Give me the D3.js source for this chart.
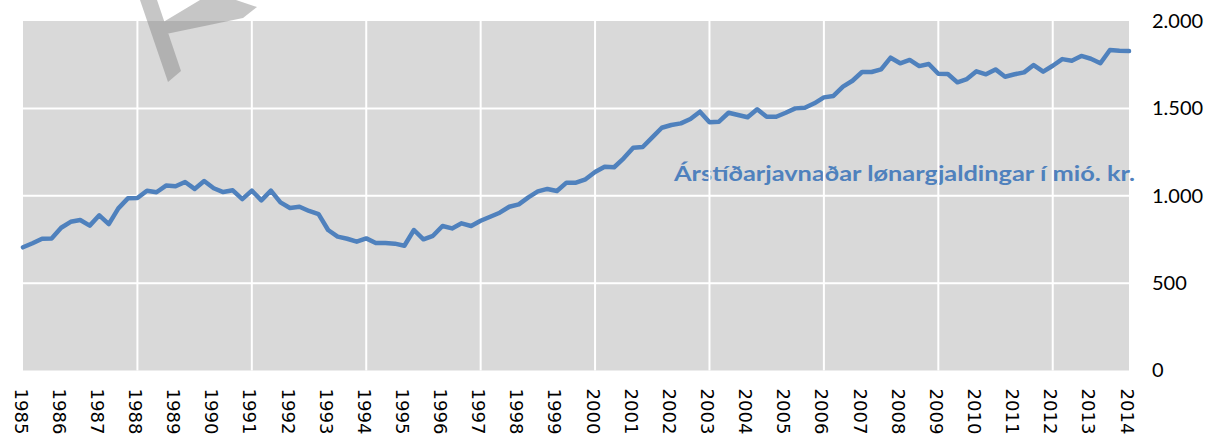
<!DOCTYPE html>
<html>
<head>
<meta charset="utf-8">
<script src="https://cdn.jsdelivr.net/npm/d3@7"></script>
<style>
  html, body { margin: 0; padding: 0; background: #fff; }
  svg { display: block; }
</style>
</head>
<body>
<div id="chart"></div>
<script>
const width = 1215;
const height = 434;

// quarterly wage payments, seasonally adjusted (mió. kr.), 1985K1 - 2014K1
const years = ["1985","1986","1987","1988","1989","1990","1991","1992","1993","1994",
  "1995","1996","1997","1998","1999","2000","2001","2002","2003","2004",
  "2005","2006","2007","2008","2009","2010","2011","2012","2013","2014"];

const values = [
  705, 728, 754, 756, 817, 851, 861, 829, 888, 838, 928, 985,
  987, 1029, 1020, 1058, 1054, 1079, 1039, 1084, 1043, 1021, 1031, 981,
  1029, 974, 1029, 962, 930, 937, 913, 895, 804, 766, 754, 737,
  756, 730, 730, 726, 714, 804, 751, 771, 827, 813, 842, 827,
  857, 880, 903, 937, 951, 991, 1025, 1039, 1027, 1075, 1075, 1094,
  1136, 1166, 1163, 1214, 1275, 1279, 1334, 1389, 1405, 1414, 1439, 1481,
  1420, 1424, 1475, 1462, 1449, 1495, 1452, 1452, 1475, 1500, 1504, 1529,
  1563, 1571, 1624, 1658, 1708, 1708, 1723, 1790, 1758, 1777, 1742, 1754,
  1698, 1697, 1649, 1668, 1712, 1695, 1723, 1681, 1695, 1706, 1748, 1710,
  1744, 1782, 1773, 1800, 1784, 1758, 1834, 1830, 1828
];

const yTicks = [0, 500, 1000, 1500, 2000];
const seriesName = "Árstíðarjavnaðar lønargjaldingar í mió. kr.";

const quarters = years.flatMap(y => ["K1","K2","K3","K4"].map(q => y + q)).slice(0, values.length);
const data = quarters.map((q, i) => ({ q: q, v: values[i] }));

const plot = { left: 23, right: 1129, top: 21, bottom: 370.5 };

const svg = d3.select("#chart").append("svg")
  .attr("width", width)
  .attr("height", height);

const x = d3.scalePoint()
  .domain(quarters)
  .range([plot.left, plot.right]);

const y = d3.scaleLinear()
  .domain([0, 2000])
  .range([plot.bottom, plot.top]);

const fo = d3.formatLocale({ decimal: ",", thousands: ".", grouping: [3], currency: ["", " kr."] });

// plot area
svg.append("rect")
  .attr("x", plot.left)
  .attr("y", plot.top)
  .attr("width", plot.right - plot.left)
  .attr("height", plot.bottom - plot.top)
  .attr("fill", "#d9d9d9");

// series label (sits under the gridlines)
svg.append("text")
  .attr("x", 1135)
  .attr("y", 180.5)
  .attr("text-anchor", "end")
  .attr("textLength", 461)
  .attr("lengthAdjust", "spacingAndGlyphs")
  .style("font-family", "Lato, 'Open Sans', sans-serif")
  .style("font-weight", 700)
  .style("font-size", "21px")
  .attr("fill", "#4f81bd")
  .text(seriesName);

// gridlines
const grid = svg.append("g").attr("stroke", "#fff").attr("stroke-width", 2);
grid.selectAll(".hg")
  .data(yTicks.slice(1, -1))
  .join("line")
  .attr("x1", plot.left).attr("x2", plot.right)
  .attr("y1", d => y(d)).attr("y2", d => y(d));
grid.selectAll(".vg")
  .data(quarters.filter((q, i) => i > 0 && i % 12 === 0))
  .join("line")
  .attr("x1", d => x(d)).attr("x2", d => x(d))
  .attr("y1", plot.top).attr("y2", plot.bottom);

// watermark
svg.append("path")
  .attr("d", "M140,0 L157,0 L181,71 L168,82 Z M160,24 L200,0 L236,0 L257,7 L243,18 L166,34 Z")
  .attr("fill", "#808080")
  .attr("fill-opacity", 0.45);

// line
const line = d3.line()
  .x(d => x(d.q))
  .y(d => y(d.v));

svg.append("path")
  .datum(data)
  .attr("d", line)
  .attr("fill", "none")
  .attr("stroke", "#4f81bd")
  .attr("stroke-width", 4.5)
  .attr("stroke-linejoin", "round")
  .attr("stroke-linecap", "round");

// right axis
const yAxis = svg.append("g")
  .attr("transform", `translate(${plot.right},0)`)
  .call(d3.axisRight(y).tickValues(yTicks).tickSize(0).tickPadding(23).tickFormat(fo.format(",")));
yAxis.select(".domain").remove();
yAxis.selectAll("text")
  .style("font-family", "Lato, 'Open Sans', sans-serif")
  .style("font-size", "20px")
  .attr("fill", "#000");

// bottom axis, one label per year
const xAxis = svg.append("g")
  .attr("transform", "translate(0,388.5)")
  .call(d3.axisBottom(x)
    .tickValues(quarters.filter(q => q.endsWith("K1")))
    .tickSize(0)
    .tickFormat(q => q.slice(0, 4)));
xAxis.select(".domain").remove();
xAxis.selectAll("text")
  .attr("x", 0)
  .attr("y", 0)
  .attr("dy", "0.35em")
  .attr("transform", "translate(-3,0) rotate(90)")
  .attr("text-anchor", "start")
  .attr("textLength", 46)
  .attr("lengthAdjust", "spacingAndGlyphs")
  .style("font-family", "'DejaVu Sans', sans-serif")
  .style("font-size", "17px")
  .attr("fill", "#000");
</script>
</body>
</html>
